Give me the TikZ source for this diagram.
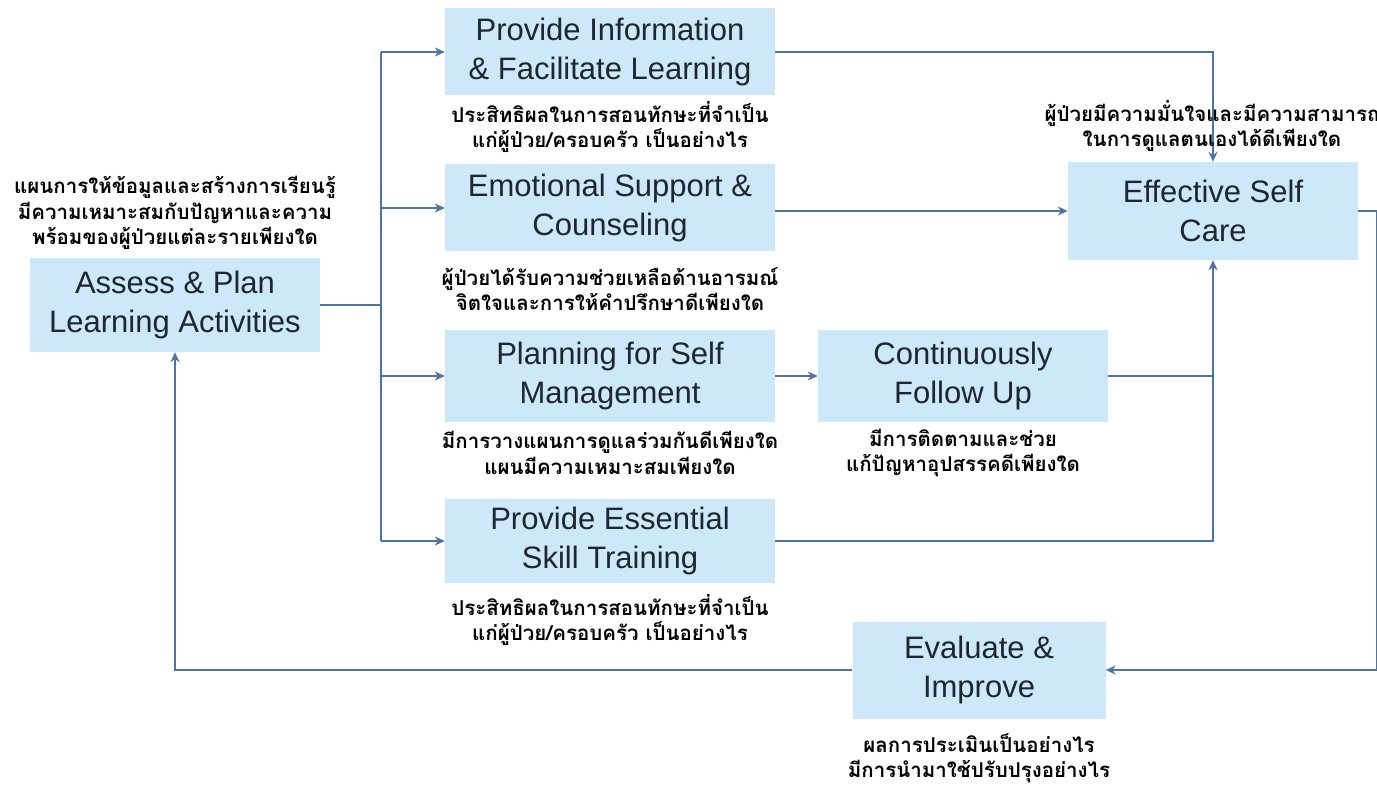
\documentclass[tikz,border=0pt]{standalone}
\usepackage{fontspec}
\setmainfont{Liberation Sans}
\newfontfamily\thaifont[Script=Thai]{Loma}
\usetikzlibrary{arrows.meta}
\definecolor{boxfill}{HTML}{CCE8F9}
\definecolor{linecol}{HTML}{4F74A0}
\definecolor{boxtext}{HTML}{1E2630}

\begin{document}
\begin{tikzpicture}[x=1pt,y=-1pt,
  box/.style={fill=boxfill, text=boxtext, align=center, inner sep=0pt,
              font=\fontsize{31}{38.5}\selectfont},
  note/.style={align=center, text=black,
               font=\thaifont\bfseries\fontsize{20.5}{25.5}\selectfont},
  link/.style={draw=linecol, line width=2pt},
  arr/.style={link, -{Stealth[length=10pt,width=9pt]}}]
\useasboundingbox (0,0) rectangle (1377,786);
\fill[white] (0,0) rectangle (1377,786);

% process boxes
\node[box, minimum width=290pt, minimum height=94pt] (assess) at (175,305) {Assess \& Plan\\Learning Activities};
\node[box, minimum width=330pt, minimum height=87pt] (info) at (610,52) {Provide Information\\\& Facilitate Learning};
\node[box, minimum width=330pt, minimum height=87pt] (emo) at (610,208) {Emotional Support \&\\Counseling};
\node[box, minimum width=330pt, minimum height=92pt] (plan) at (610,376) {Planning for Self\\Management};
\node[box, minimum width=290pt, minimum height=92pt] (follow) at (963,376) {Continuously\\Follow Up};
\node[box, minimum width=330pt, minimum height=84pt] (skill) at (610,541) {Provide Essential\\Skill Training};
\node[box, minimum width=290pt, minimum height=98pt] (eff) at (1213,211) {Effective Self\\Care};
\node[box, minimum width=253pt, minimum height=97pt] (eval) at (979,670) {Evaluate \&\\Improve};

% branching trunk out of the planning step
\coordinate (ttop) at (381,52);
\coordinate (tbot) at (381,541);
\coordinate (redge) at (1376.5,211);
\draw[link] (assess.east) -- (assess.east -| ttop);
\draw[link] (ttop) -- (tbot);
\draw[arr] (ttop) -- (info.west);
\draw[arr] (emo.west -| ttop) -- (emo.west);
\draw[arr] (plan.west -| ttop) -- (plan.west);
\draw[arr] (tbot) -- (skill.west);

% flows into effective self care
\draw[arr] (info.east) -| (eff.north);
\draw[arr] (emo.east |- eff.west) -- (eff.west);
\draw[arr] (plan.east) -- (follow.west);
\draw[link] (follow.east) -- (follow.east -| eff.south);
\draw[arr] (skill.east) -| (eff.south);

% feedback loop
\draw[arr] (eff.east) -- (redge) |- (eval.east);
\draw[arr] (eval.west) -| (assess.south);

% guiding questions
\node[note] (nassess) at (175,213) {แผนการให้ข้อมูลและสร้างการเรียนรู้\\มีความเหมาะสมกับปัญหาและความ\\พร้อมของผู้ป่วยแต่ละรายเพียงใด};
\node[note] (ninfo) at (610,127) {ประสิทธิผลในการสอนทักษะที่จำเป็น\\แก่ผู้ป่วย/ครอบครัว เป็นอย่างไร};
\node[note] (nemo) at (610,289) {ผู้ป่วยได้รับความช่วยเหลือด้านอารมณ์\\จิตใจและการให้คำปรึกษาดีเพียงใด};
\node[note] (nplan) at (610,453) {มีการวางแผนการดูแลร่วมกันดีเพียงใด\\แผนมีความเหมาะสมเพียงใด};
\node[note] (nfollow) at (963,453) {มีการติดตามและช่วย\\แก้ปัญหาอุปสรรคดีเพียงใด};
\node[note] (nskill) at (610,620) {ประสิทธิผลในการสอนทักษะที่จำเป็น\\แก่ผู้ป่วย/ครอบครัว เป็นอย่างไร};
\node[note] (neff) at (1212,126) {ผู้ป่วยมีความมั่นใจและมีความสามารถ\\ในการดูแลตนเองได้ดีเพียงใด};
\node[note] (neval) at (979,758) {ผลการประเมินเป็นอย่างไร\\มีการนำมาใช้ปรับปรุงอย่างไร};
\end{tikzpicture}
\end{document}
